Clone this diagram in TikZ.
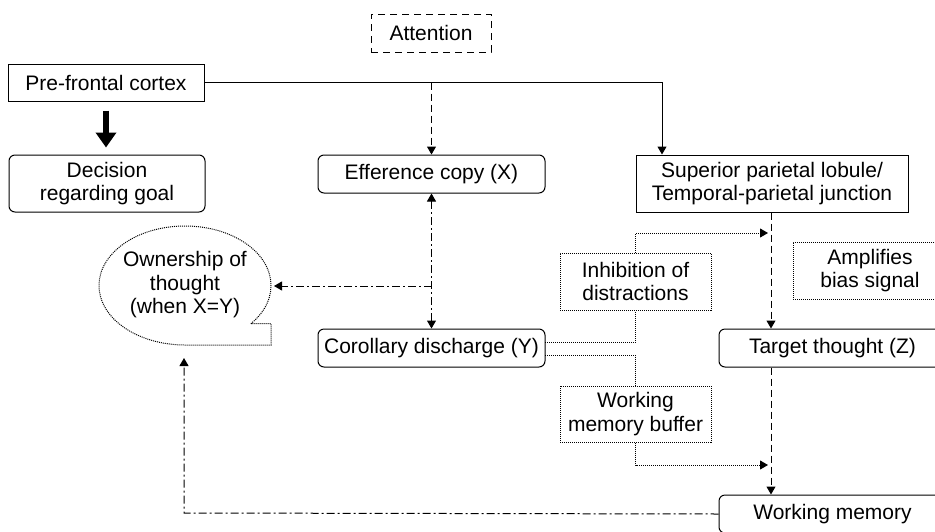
\documentclass[tikz,border=0pt]{standalone}
\usepackage{fontspec}
\setmainfont{Liberation Sans}
\usetikzlibrary{arrows.meta}
\begin{document}
\begin{tikzpicture}[x=1pt,y=-1pt,
  every node/.style={font=\fontsize{21}{23.5}\selectfont, align=center, inner sep=0pt, line width=1pt},
  rbox/.style={draw, rounded corners=6pt},
  dotbox/.style={draw, dash pattern=on 1pt off 1pt},
  tip/.style={-{Triangle[width=9pt,length=8pt]}},
  conn/.style={line width=1pt},
  dashln/.style={conn, dash pattern=on 7pt off 4pt},
  dashdot/.style={conn, dash pattern=on 8pt off 3pt on 2pt off 3pt},
  dotln/.style={conn, dash pattern=on 1pt off 1pt},
]
\clip (0,0) rectangle (935,531);
\fill[white] (0,0) rectangle (935,531);

% nodes
\node[draw, dash pattern=on 7pt off 5pt, minimum width=120pt, minimum height=38pt] (attn) at (431,33) {Attention};
\node[draw, minimum width=196pt, minimum height=37pt] (pfc) at (106,82.5) {Pre-frontal cortex};
\node[rbox, minimum width=196pt, minimum height=57pt] (dec) at (107,183.5) {Decision\\regarding goal};
\node[rbox, minimum width=227pt, minimum height=38pt] (eff) at (431.5,174) {Efference copy (X)};
\node[draw, minimum width=272pt, minimum height=57pt] (spl) at (772,183.5) {Superior parietal lobule/\\Temporal-parietal junction};
\node[rbox, minimum width=227pt, minimum height=38pt] (cor) at (431.5,348) {Corollary discharge (Y)};
\node[rbox, minimum width=227pt, minimum height=38pt] (tgt) at (832.5,348) {Target thought (Z)};
\node[rbox, minimum width=227pt, minimum height=38pt] (wm) at (832.5,514) {Working memory};
\node[dotbox, minimum width=154pt, minimum height=57pt] (amp) at (870,270.5) {Amplifies\\bias signal};
\node[dotbox, minimum width=151pt, minimum height=57pt] (inh) at (635.5,281.5) {Inhibition of\\distractions};
\node[dotbox, minimum width=151pt, minimum height=56pt] (wmb) at (635.5,414) {Working\\memory buffer};
\node (own) at (185,285) {Ownership of\\thought\\(when X=Y)};

% speech bubble outline
\draw[dotln] (185,285.5) ++(-40:86pt and 59.5pt)
  arc[start angle=-40, end angle=270, x radius=86pt, y radius=59.5pt]
  -- (271,345) -- (271,323.6) -- cycle;
\coordinate (ownR) at (274,286);
\coordinate (ownB) at (184,358);

% thick arrow
\draw[line width=6pt, -{Triangle[width=20pt,length=15pt]}, shorten <=9pt, shorten >=7pt] (pfc.south) -- (pfc.south |- dec.north);

% pfc to spl
\coordinate (j1) at (662,82.5);
\draw[conn, tip] (pfc.east) -- (j1) -- (j1 |- spl.north);
% dashed pfc -> eff
\draw[dashln, tip] (eff.north |- pfc.east) -- (eff.north);
% eff <-> cor
\draw[dashdot, {Triangle[width=9pt,length=8pt]}-{Triangle[width=9pt,length=8pt]}] (eff.south) -- (cor.north);
% to ownership
\coordinate (j2) at (431.5,286);
\draw[dashdot, tip] (j2) -- (ownR);
% wm -> ownership
\coordinate (j3) at (184,513);
\draw[dashdot, tip] (wm.west) -- (j3) -- (ownB);
% spl -> tgt -> wm
\coordinate (vx) at (771,0);
\draw[dashln, tip] (vx |- spl.south) -- (vx |- tgt.north);
\draw[dashln, tip] (vx |- tgt.south) -- (vx |- wm.north);
% dotted connectors
\coordinate (a1) at (635.5,233);
\coordinate (a1e) at (768,233);
\draw[dotln, tip] (inh.north) -- (a1) -- (a1e);
\coordinate (c1) at (545,342);
\coordinate (c2) at (635.5,342);
\draw[dotln] (c1) -- (c2) -- (inh.south);
\coordinate (c3) at (545,355);
\coordinate (c4) at (635.5,355);
\draw[dotln] (c3) -- (c4) -- (wmb.north);
\coordinate (b1) at (635.5,465);
\coordinate (b1e) at (768,465);
\draw[dotln, tip] (wmb.south) -- (b1) -- (b1e);
\end{tikzpicture}
\end{document}
